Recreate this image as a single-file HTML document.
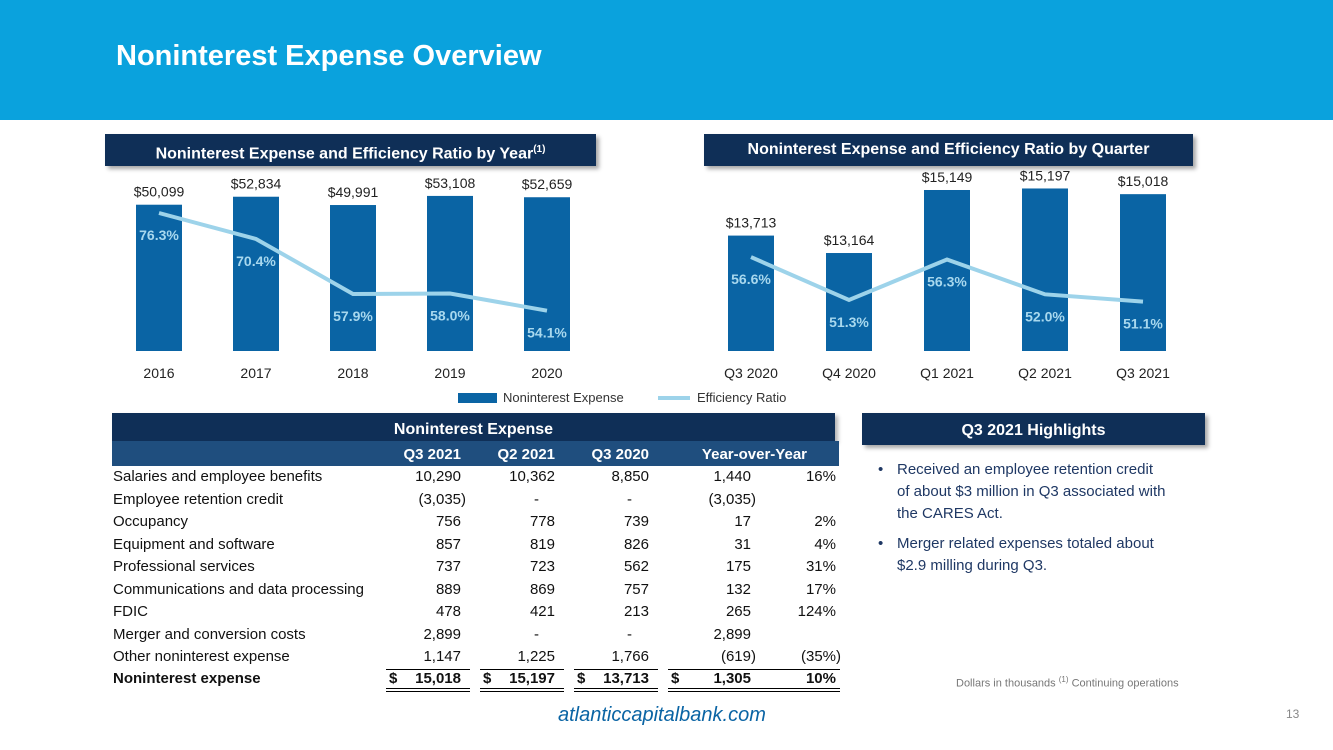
<!DOCTYPE html>
<html><head><meta charset="utf-8"><style>
body{margin:0;width:1333px;height:750px;background:#fff;font-family:"Liberation Sans",sans-serif;position:relative;overflow:hidden}
.abs{position:absolute}
.hbox{position:absolute;background:#0f2f57;color:#fff;font-weight:bold;font-size:16px;text-align:center;box-shadow:3px 3px 4px rgba(0,0,0,.35)}
.row{position:absolute;left:113px;font-size:15px;color:#111;height:22px;width:730px}
.row span{position:absolute;top:0;white-space:nowrap}
</style></head><body>
<div class="abs" style="left:0;top:0;width:1333px;height:120px;background:#0aa2dd"></div>
<div class="abs" style="left:116px;top:40px;font-size:29px;font-weight:bold;color:#fff">Noninterest Expense Overview</div>

<div class="hbox" style="left:105px;top:134px;width:491px;height:32px;line-height:32px">Noninterest Expense and Efficiency Ratio by Year<sup style="font-size:10px">(1)</sup></div>
<div class="hbox" style="left:704px;top:134px;width:489px;height:32px;line-height:32px">Noninterest Expense and Efficiency Ratio by Quarter</div>

<svg class="abs" style="left:0;top:0" width="1333" height="410" id="charts"></svg>

<div class="abs" style="left:458px;top:393px;width:39px;height:10px;background:#0a64a4"></div>
<div class="abs" style="left:503px;top:390px;font-size:13px;color:#333">Noninterest Expense</div>
<div class="abs" style="left:658px;top:396px;width:32px;height:4px;background:#9dd3ea"></div>
<div class="abs" style="left:697px;top:390px;font-size:13px;color:#333">Efficiency Ratio</div>

<div class="abs" style="left:112px;top:413px;width:723px;height:28px;background:#0f2f57;box-shadow:3px 3px 4px rgba(0,0,0,.3);color:#fff;font-weight:bold;font-size:16px;line-height:34px;text-align:center">Noninterest Expense</div>
<div class="abs" style="left:112px;top:441px;width:727px;height:25px;background:#1f4e7e;color:#fff;font-weight:bold;font-size:15px">
<span class="abs" style="right:378px;top:5px">Q3 2021</span><span class="abs" style="right:284px;top:5px">Q2 2021</span><span class="abs" style="right:190px;top:5px">Q3 2020</span><span class="abs" style="right:32px;top:5px">Year-over-Year</span></div>
<div id="tbl"></div>

<div class="hbox" style="left:862px;top:413px;width:343px;height:32px;line-height:36px">Q3 2021 Highlights</div>
<div class="abs" style="left:878px;top:459px;width:330px;font-size:15px;line-height:22px;color:#1f3864;white-space:nowrap">
<div style="position:relative;height:66px">•<span style="position:absolute;left:19px;top:0">Received an employee retention credit<br>of about $3 million in Q3 associated with<br>the CARES Act.</span></div>
<div style="position:relative;margin-top:8px">•<span style="position:absolute;left:19px;top:0">Merger related expenses totaled about<br>$2.9 milling during Q3.</span></div>
</div>
<div class="abs" style="left:956px;top:675px;font-size:11px;color:#777">Dollars in thousands <sup style="font-size:8px">(1)</sup> Continuing operations</div>
<div class="abs" style="left:558px;top:704px;font-size:20px;font-style:italic;color:#0a64a4">atlanticcapitalbank.com</div>
<div class="abs" style="left:1286px;top:707px;font-size:12px;color:#888">13</div>

<script>
const yearCats=["2016","2017","2018","2019","2020"];
const yearExp=[50099,52834,49991,53108,52659];
const yearRatio=[76.3,70.4,57.9,58.0,54.1];
const qCats=["Q3 2020","Q4 2020","Q1 2021","Q2 2021","Q3 2021"];
const qExp=[13713,13164,15149,15197,15018];
const qRatio=[56.6,51.3,56.3,52.0,51.1];
const NS="http://www.w3.org/2000/svg";
const svg=document.getElementById('charts');
function mk(t,a,txt){const e=document.createElementNS(NS,t);for(const k in a)e.setAttribute(k,a[k]);if(txt!==undefined)e.textContent=txt;svg.appendChild(e);return e;}
function fmt(v){return "$"+v.toLocaleString("en-US");}
function chart(cats,exp,ratio,x0,dx,yb,ys,rmRef,rmY,rs,prefix){
  const xs=i=>x0+i*dx;
  const ye=v=>351-(v-yb)*ys;
  const yr=v=>rmY-(v-rmRef)*rs;
  cats.forEach((c,i)=>{
    const b=mk('rect',{x:xs(i)-23,y:ye(exp[i]),width:46,height:351-ye(exp[i]),fill:'#0a64a4'});
    
    
    const t=mk('text',{x:xs(i),y:ye(exp[i])-8,'text-anchor':'middle','font-size':14,fill:'#222'},fmt(exp[i]));
    
    
    const a=mk('text',{x:xs(i),y:378,'text-anchor':'middle','font-size':14,fill:'#222'},c);
    
    
  });
  const pts=ratio.map((v,i)=>xs(i)+','+yr(v)).join(' ');
  const l=mk('polyline',{points:pts,fill:'none',stroke:'#9dd3ea','stroke-width':4});
  
  
  ratio.forEach((v,i)=>{
    const t=mk('text',{x:xs(i),y:yr(v)+27,'text-anchor':'middle','font-size':14,'font-weight':'bold',fill:'#a8d8ee'},v.toFixed(1)+'%');
    
    
  });
}
chart(yearCats,yearExp,yearRatio,159,97,0,0.00292,76.3,213,4.4,'year');
chart(qCats,qExp,qRatio,751,98,10078,0.03175,51.3,300,8.1,'quarter');

const rowLabels=["Salaries and employee benefits","Employee retention credit","Occupancy","Equipment and software","Professional services","Communications and data processing","FDIC","Merger and conversion costs","Other noninterest expense"];
const q321=["10,290","(3,035)","756","857","737","889","478","2,899","1,147"];
const q221=["10,362","-","778","819","723","869","421","-","1,225"];
const q320=["8,850","-","739","826","562","757","213","-","1,766"];
const yoyAmt=["1,440","(3,035)","17","31","175","132","265","2,899","(619)"];
const yoyPct=["16%","","2%","4%","31%","17%","124%","","(35%)"];
const tbl=document.getElementById('tbl');
function cell(row,txt,right,bold){const s=document.createElement('span');s.textContent=txt;s.style.right=right+'px';if(bold)s.style.fontWeight='bold';row.appendChild(s);}
const p=v=>v.endsWith(')')?-5:0;
rowLabels.forEach((lab,i)=>{
  const r=document.createElement('div');r.className='row';r.style.top=(468+i*22.5)+'px';
  
  
  const s=document.createElement('span');s.textContent=lab;s.style.left='0';r.appendChild(s);
  cell(r,q321[i],382+p(q321[i]));
  cell(r,q221[i],q221[i]==='-'?304:288+p(q221[i]));
  cell(r,q320[i],q320[i]==='-'?211:194+p(q320[i]));
  cell(r,yoyAmt[i],92+p(yoyAmt[i]));
  cell(r,yoyPct[i],7+(yoyPct[i].endsWith(')')?-5:0));
  tbl.appendChild(r);
});
const tot=document.createElement('div');tot.className='row';tot.style.top='670px';


const b0=document.createElement('span');b0.textContent='Noninterest expense';b0.style.left='0';b0.style.fontWeight='bold';tot.appendChild(b0);
cell(tot,'15,018',382,true);cell(tot,'15,197',288,true);cell(tot,'13,713',194,true);cell(tot,'1,305',92,true);cell(tot,'10%',7,true);
[273,367,461,555].forEach(x=>{const d=document.createElement('span');d.textContent='$';d.style.left=(x+3)+'px';d.style.fontWeight='bold';tot.appendChild(d);});
tbl.appendChild(tot);
[[386,470],[480,564],[574,658],[668,840]].forEach(s=>{
  const a=document.createElement('div');a.className='abs';a.style.cssText=`left:${s[0]}px;top:669px;width:${s[1]-s[0]}px;border-top:1px solid #000`;
  
  
  document.body.appendChild(a);
  const b=document.createElement('div');b.className='abs';b.style.cssText=`left:${s[0]}px;top:688px;width:${s[1]-s[0]}px;height:2px;border-top:1px solid #000;border-bottom:1px solid #000`;
  
  
  document.body.appendChild(b);
});
</script>
</body></html>
